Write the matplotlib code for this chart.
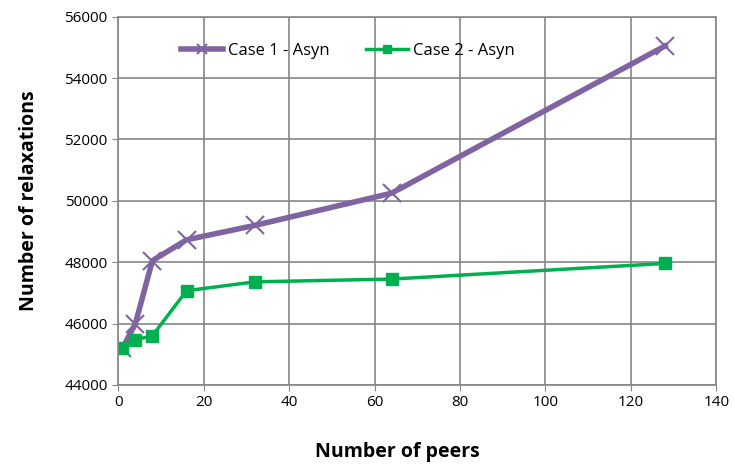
import matplotlib
matplotlib.use('Agg')
import matplotlib.pyplot as plt

# Data
peers = [1, 4, 8, 16, 32, 64, 128]
case1 = [45200, 45980, 48050, 48730, 49200, 50250, 55050]
case2 = [45200, 45470, 45600, 47070, 47360, 47450, 47960]

plt.rcParams['font.family'] = ['Open Sans', 'DejaVu Sans']

fig = plt.figure(figsize=(7.34, 4.66), dpi=100)
ax = fig.add_axes([0.161, 0.174, 0.815, 0.79])

ax.plot(peers, case1, color="#8064A2", linewidth=4, marker="x",
        markersize=13, markeredgewidth=1.5, label="Case 1 - Asyn")
ax.plot(peers, case2, color="#00B050", linewidth=2.5, marker="s",
        markersize=9, label="Case 2 - Asyn")

ax.set_xlim(0, 140)
ax.set_ylim(44000, 56000)
ax.set_xticks(range(0, 141, 20))
ax.set_yticks(range(44000, 56001, 2000))
ax.grid(True, color="#868686", linewidth=1.2)
ax.set_axisbelow(True)
for s in ax.spines.values():
    s.set_color("#868686")
    s.set_linewidth(1.2)
ax.tick_params(labelsize=11, length=4, color="#868686")

ax.set_xlabel("Number of peers", fontsize=14, fontweight="bold")
ax.xaxis.set_label_coords(0.467, -0.155)
ax.set_ylabel("Number of relaxations", fontsize=14, fontweight="bold", labelpad=18)

leg = ax.legend(loc="upper left", bbox_to_anchor=(0.08, 0.97), ncol=2,
                frameon=False, fontsize=12, handlelength=2.5, markerscale=0.6,
                columnspacing=2.2, handletextpad=0.3)

plt.savefig("out.png")
plt.close()
